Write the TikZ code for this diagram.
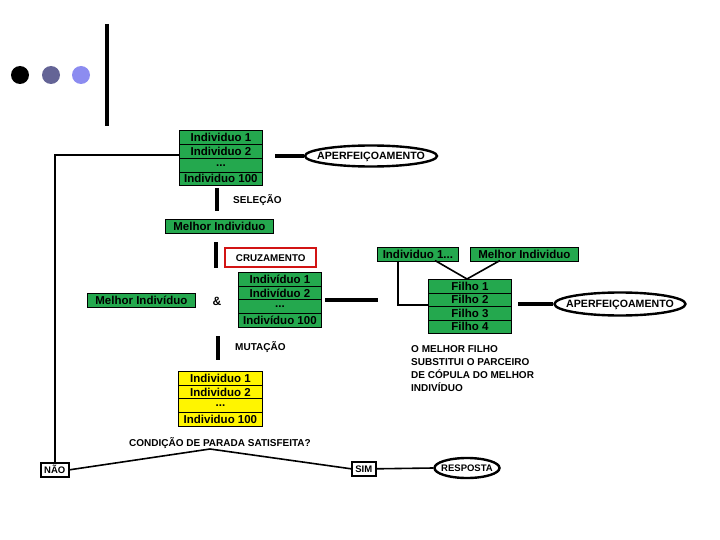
\documentclass[tikz,border=0pt]{standalone}
\usepackage{fontspec}
\setmainfont{Liberation Sans}
\usetikzlibrary{shapes.geometric}
\definecolor{gbox}{RGB}{36,168,78}
\definecolor{ybox}{RGB}{255,245,0}
\definecolor{dotA}{RGB}{0,0,0}
\definecolor{dotB}{RGB}{100,100,150}
\definecolor{dotC}{RGB}{140,140,240}
\definecolor{redb}{RGB}{210,20,20}
\tikzset{
  cell/.style={draw, line width=0.8pt, fill=gbox, minimum width=83pt, minimum height=13.7pt, inner sep=0pt,
    font=\bfseries\fontsize{11.5}{12}\selectfont, anchor=north west},
  ycell/.style={cell, fill=ybox},
  gbar/.style={draw, line width=0.8pt, fill=gbox, minimum height=14pt, inner sep=0pt,
    font=\bfseries\fontsize{11.5}{12}\selectfont, anchor=north west},
  lbl/.style={font=\bfseries\fontsize{10}{13}\selectfont, inner sep=0pt},
  oval/.style={ellipse, draw, line width=2.4pt, inner xsep=-12pt, inner ysep=-3pt, text height=7.5pt, text depth=0pt,
    font=\bfseries\fontsize{10.6}{12}\selectfont},
  sbox/.style={draw, line width=1.6pt, inner sep=0pt, font=\bfseries\fontsize{9.5}{11}\selectfont, anchor=north west},
  bar/.style={line width=3.5pt},
  conn/.style={line width=1.6pt},
}
\begin{document}
\begin{tikzpicture}[x=1pt,y=-1pt]
\useasboundingbox (0,0) rectangle (720,540);
% decoration dots and bar
\fill[dotA] (20,75) circle (9);
\fill[dotB] (51,75) circle (9);
\fill[dotC] (81,75) circle (9);
\coordinate (vb1) at (107,24);
\coordinate (vb2) at (107,126);
\draw[line width=4pt] (vb1) -- (vb2);

% top table
\node[cell] (t1) at (179,130.5) {Individuo 1};
\node[cell] (t2) at (179,144.2) {Individuo 2};
\node[cell] (t3) at (179,157.9) {...};
\node[cell] (t4) at (179,171.6) {Individuo 100};
\node[oval, minimum width=132pt, minimum height=21pt] (ap1) at (371,156) {APERFEIÇOAMENTO};
\coordinate (ap1s) at (275,156);
\draw[bar] (ap1s) -- (ap1.west);

% selection
\coordinate (s1) at (217,188);
\coordinate (s2) at (217,211);
\draw[bar] (s1) -- (s2);
\node[lbl, anchor=west] (sel) at (233,200) {SELEÇÃO};
\node[gbar, minimum width=108pt] (mel1) at (165,219) {Melhor Individuo};

% crossover
\coordinate (c1) at (216,242);
\coordinate (c2) at (216,268);
\draw[bar] (c1) -- (c2);
\node[draw=redb, line width=2.4pt, fill=white, minimum width=91pt, minimum height=19pt, inner sep=0pt,
  anchor=north west, font=\bfseries\fontsize{9.8}{11}\selectfont] (cruz) at (224,247) {CRUZAMENTO};

\node[cell] (m1) at (238,272) {Indivíduo 1};
\node[cell] (m2) at (238,285.7) {Indivíduo 2};
\node[cell] (m3) at (238,299.4) {...};
\node[cell] (m4) at (238,313.1) {Indivíduo 100};
\node[gbar, minimum width=108pt] (mel2) at (87,293) {Melhor Indivíduo};
\node[font=\bfseries\fontsize{12}{12}\selectfont, inner sep=0pt] (amp) at (217,301) {\&};
\coordinate (x1) at (325,300);
\coordinate (x2) at (378,300);
\draw[bar] (x1) -- (x2);

% right part
\node[gbar, minimum width=81pt, minimum height=13.5pt] (ind1) at (377,247) {Individuo 1...};
\node[gbar, minimum width=108pt, minimum height=13.5pt] (mel3) at (470,247) {Melhor Individuo};
\node[cell] (f1) at (428,279) {Filho 1};
\node[cell] (f2) at (428,292.5) {Filho 2};
\node[cell] (f3) at (428,306) {Filho 3};
\node[cell] (f4) at (428,319.5) {Filho 4};
\coordinate (fj) at (467,279);
\coordinate (i1a) at (398,260.5);
\coordinate (i1b) at (435,260.5);
\coordinate (mb) at (500,260.5);
\coordinate (fl) at (428,305);
\draw[conn] (i1a) |- (fl);
\draw[conn] (i1b) -- (fj);
\draw[conn] (mb) -- (fj);
\node[oval, minimum width=131pt, minimum height=23pt, inner xsep=-14pt] (ap2) at (620,304) {APERFEIÇOAMENTO};
\coordinate (ap2s) at (518,304);
\draw[bar] (ap2s) -- (ap2.west);
\node[lbl, anchor=north west, align=left] (txt) at (411,345) {O MELHOR FILHO\\SUBSTITUI O PARCEIRO\\DE CÓPULA DO MELHOR\\INDIVÍDUO};

% mutation
\coordinate (u1) at (218,336);
\coordinate (u2) at (218,360);
\draw[bar] (u1) -- (u2);
\node[lbl, anchor=west] (mut) at (235,347) {MUTAÇÃO};
\node[ycell, minimum width=84pt] (y1) at (178,371) {Individuo 1};
\node[ycell, minimum width=84pt] (y2) at (178,384.7) {Individuo 2};
\node[ycell, minimum width=84pt] (y3) at (178,398.4) {...};
\node[ycell, minimum width=84pt] (y4) at (178,412.1) {Individuo 100};

% stop condition
\node[lbl] (cond) at (220,443) {CONDIÇÃO DE PARADA SATISFEITA?};
\node[sbox, minimum width=28pt, minimum height=14pt] (nao) at (40,462) {NÃO};
\node[sbox, minimum width=24pt, minimum height=14pt] (sim) at (351,461) {SIM};
\node[oval, minimum width=65pt, minimum height=20pt, inner xsep=-8pt, text height=7pt, font=\bfseries\fontsize{9.5}{11}\selectfont] (resp) at (467,468) {RESPOSTA};
\coordinate (peak) at (210,449);
\coordinate (topl) at (179,155);
\draw[conn] (nao.east) -- (peak) -- (sim.west);
\draw[conn] (sim.east) -- (resp.west);
\draw[conn] (nao.north) |- (topl);
\end{tikzpicture}
\end{document}
